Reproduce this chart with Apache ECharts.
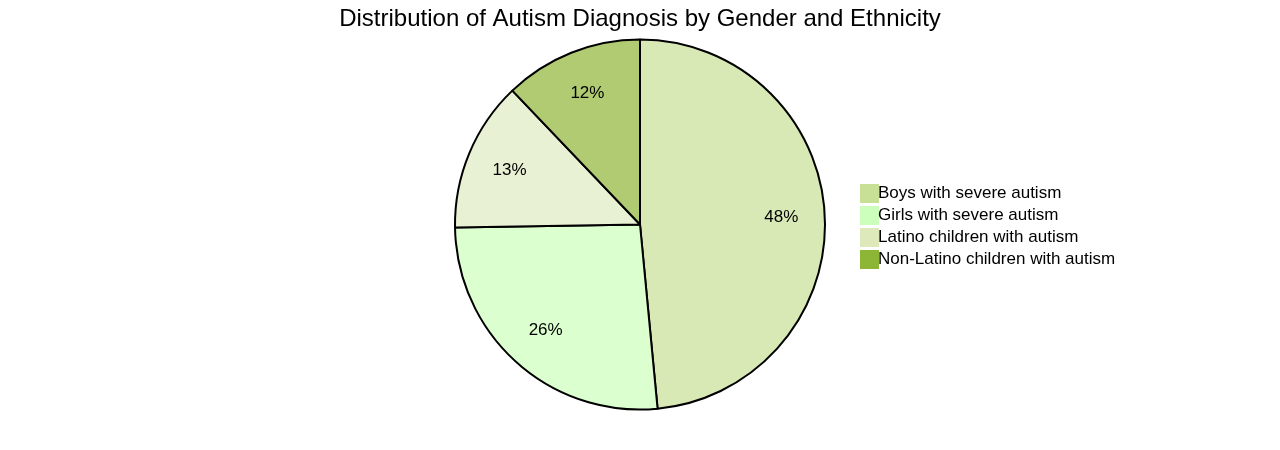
<!DOCTYPE html><html><head><meta charset="utf-8"><script src="https://cdn.jsdelivr.net/npm/echarts@6/dist/echarts.min.js"></script>
<style>html,body{margin:0;background:#fff}#c{width:1280px;height:450px}</style></head><body><div id="c"></div><script>
const categories=["Boys with severe autism","Girls with severe autism","Latino children with autism","Non-Latino children with autism"];
const values=[48,26,13,12];
const legendColors=["#c8e096","#ccffbb","#dde8bb","#8db536"];
const sliceColors=["#d9e9b6","#dbffcf","#e8f1d3","#b0cb72"];
const ch=echarts.init(document.getElementById('c'));
const font='"Liberation Sans", Arial, sans-serif';
ch.setOption({
 animation:false,
 title:{text:"Distribution of Autism Diagnosis by Gender and Ethnicity",left:'center',top:2,textStyle:{fontFamily:font,fontSize:24,fontWeight:'normal',color:'#000'}},
 legend:{orient:'vertical',left:855,top:179,itemWidth:19,itemHeight:19,itemGap:3,icon:'rect',textStyle:{fontFamily:font,fontSize:17,color:'#000',padding:[0,0,0,-6]},
  data:categories.map((n,i)=>({name:n,itemStyle:{color:legendColors[i],borderWidth:0}}))},
 series:[
 {type:'pie',center:[640,224.5],radius:[0,185],startAngle:90,clockwise:true,label:{show:false},labelLine:{show:false},
  itemStyle:{borderColor:'#000',borderWidth:2},emphasis:{disabled:true},
  data:categories.map((n,i)=>({name:n,value:values[i],itemStyle:{color:sliceColors[i]}}))},
 {type:'pie',center:[640,224.5],radius:[92,185],startAngle:90,silent:true,legendHoverLink:false,
  label:{show:true,position:'inside',formatter:p=>p.value+'%',fontFamily:font,fontSize:17,color:'#000'},
  itemStyle:{color:'rgba(0,0,0,0)',borderWidth:0},
  data:categories.map((n,i)=>({name:n+' ',value:values[i]}))}
 ]
});
</script></body></html>
